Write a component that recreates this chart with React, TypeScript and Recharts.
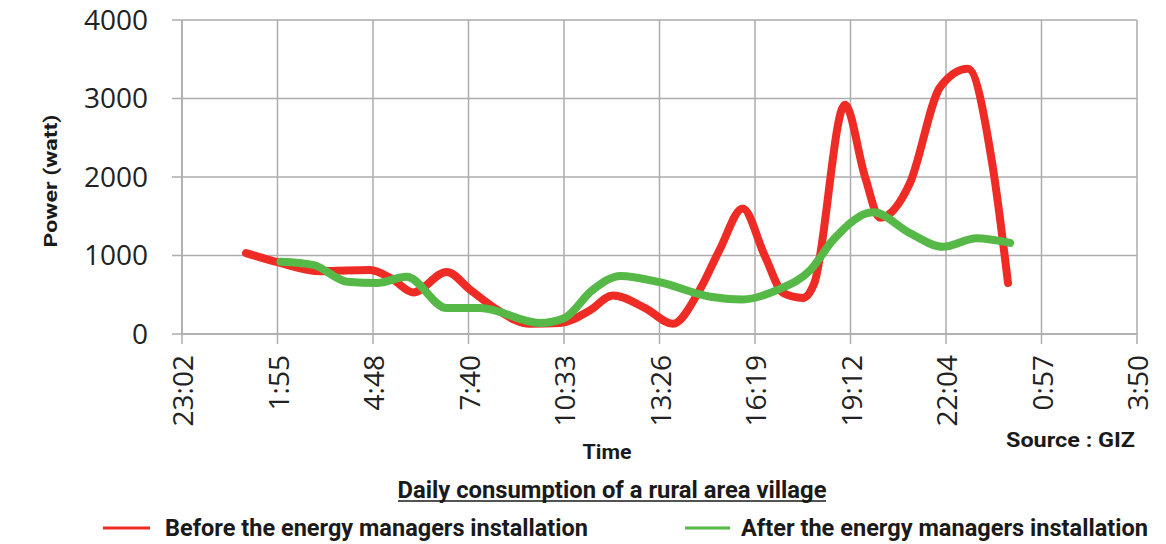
import React from 'react';
import { LineChart, Line, XAxis, YAxis, CartesianGrid } from 'recharts';

// x values: hours elapsed since 23:02
const tickLabels = ['23:02', '1:55', '4:48', '7:40', '10:33', '13:26', '16:19', '19:12', '22:04', '0:57', '3:50'];
const tickStep = 2.88;
const yTicks = [0, 1000, 2000, 3000, 4000];

const beforeTimes = [1.93, 2.88, 4.18, 5.67, 6.34, 6.97, 7.98, 8.7, 9.5, 10.48, 11.4, 12.3, 12.99, 13.97, 14.8, 15.61, 16.21, 16.91, 17.57, 18.14, 18.72, 19.07, 19.99, 20.6, 21.05, 21.95, 22.87, 23.7, 24.45, 24.91];
const beforeValues = [1030, 915, 800, 815, 700, 530, 790, 560, 310, 130, 140, 300, 490, 330, 130, 560, 1070, 1600, 1000, 520, 460, 650, 2920, 2000, 1480, 1920, 3150, 3380, 2130, 650];

const afterTimes = [2.97, 3.95, 4.98, 5.88, 6.77, 7.98, 8.99, 10.8, 11.52, 12.38, 13.22, 14.4, 15.93, 16.91, 17.94, 18.95, 19.64, 20.85, 21.95, 22.95, 23.96, 24.97];
const afterValues = [920, 880, 666, 650, 730, 330, 330, 140, 200, 560, 740, 660, 475, 440, 560, 815, 1200, 1550, 1285, 1110, 1220, 1160];

const beforeData = beforeTimes.map((t, i) => ({ t, v: beforeValues[i] }));
const afterData = afterTimes.map((t, i) => ({ t, v: afterValues[i] }));

const RED = '#EE2B24';
const GREEN = '#55B847';
const GRID = '#ADADAD';

const XTick = (props: any) => {
  const { x, y, payload } = props;
  const idx = Math.round(payload.value / tickStep);
  const id = `xclip${idx}`;
  return (
    <g>
      <defs>
        <clipPath id={id}>
          <rect x={x - 30} y={y - 20} width={60} height={430 - (y - 20)} />
        </clipPath>
      </defs>
      <g clipPath={`url(#${id})`}>
        <text
          x={x}
          y={y + 11}
          transform={`rotate(-90 ${x} ${y + 11})`}
          textAnchor="end"
          dominantBaseline="central"
          fontFamily='"Open Sans"'
          fontSize={28}
          fill="#222"
        >
          {tickLabels[idx]}
        </text>
      </g>
    </g>
  );
};

export default function App() {
  const bold = { fontFamily: 'Roboto, "Liberation Sans", sans-serif', fontWeight: 700, fill: '#1a1a1a' } as any;
  return (
    <div style={{ position: 'absolute', left: 0, top: 0, width: 1166, height: 544, background: '#fff' }}>
      <LineChart width={1166} height={544} margin={{ top: 20, right: 29, bottom: 120, left: 0 }}>
        <CartesianGrid stroke={GRID} strokeWidth={1.5} vertical horizontal />
        <XAxis
          type="number"
          dataKey="t"
          domain={[0, tickStep * 10]}
          ticks={tickLabels.map((_, i) => i * tickStep)}
          interval={0}
          tick={<XTick />}
          tickSize={10}
          tickMargin={0}
          height={90}
          stroke={GRID}
          strokeWidth={1.5}
          allowDuplicatedCategory={false}
        />
        <YAxis
          type="number"
          domain={[0, 4000]}
          ticks={yTicks}
          width={182}
          tickSize={10}
          tickMargin={24}
          stroke={GRID}
          strokeWidth={1.5}
          tick={{ fontFamily: '"Open Sans"', fontSize: 28, fill: '#222' }}
        />
        <Line data={beforeData} dataKey="v" type="monotone" stroke={RED} strokeWidth={8} dot={false} isAnimationActive={false} strokeLinecap="round" />
        <Line data={afterData} dataKey="v" type="monotone" stroke={GREEN} strokeWidth={8} dot={false} isAnimationActive={false} strokeLinecap="round" />
      </LineChart>
      <svg width={1166} height={544} style={{ position: 'absolute', left: 0, top: 0, pointerEvents: 'none' }}>
        <text x={50} y={181} transform="rotate(-90 50 181)" textAnchor="middle" dominantBaseline="central" fontSize={19} textLength={133} lengthAdjust="spacingAndGlyphs" {...bold}>Power (watt)</text>
        <text x={607} y={452} textAnchor="middle" dominantBaseline="central" fontSize={21} textLength={49} lengthAdjust="spacingAndGlyphs" {...bold}>Time</text>
        <text x={1135} y={440} textAnchor="end" dominantBaseline="central" fontSize={21} textLength={129} lengthAdjust="spacingAndGlyphs" {...bold}>Source : GIZ</text>
        <text x={612} y={490} textAnchor="middle" dominantBaseline="central" fontSize={23} textLength={429} lengthAdjust="spacingAndGlyphs" {...bold}>Daily consumption of a rural area village</text>
        <line x1={398} x2={826} y1={501} y2={501} stroke="#1a1a1a" strokeWidth={1.5} />
        <line x1={103} x2={150} y1={528} y2={528} stroke={RED} strokeWidth={3} />
        <text x={165} y={528} dominantBaseline="central" fontSize={23} textLength={423} lengthAdjust="spacingAndGlyphs" {...bold}>Before the energy managers installation</text>
        <line x1={685} x2={730} y1={528} y2={528} stroke={GREEN} strokeWidth={3} />
        <text x={741} y={528} dominantBaseline="central" fontSize={23} textLength={407} lengthAdjust="spacingAndGlyphs" {...bold}>After the energy managers installation</text>
      </svg>
    </div>
  );
}
